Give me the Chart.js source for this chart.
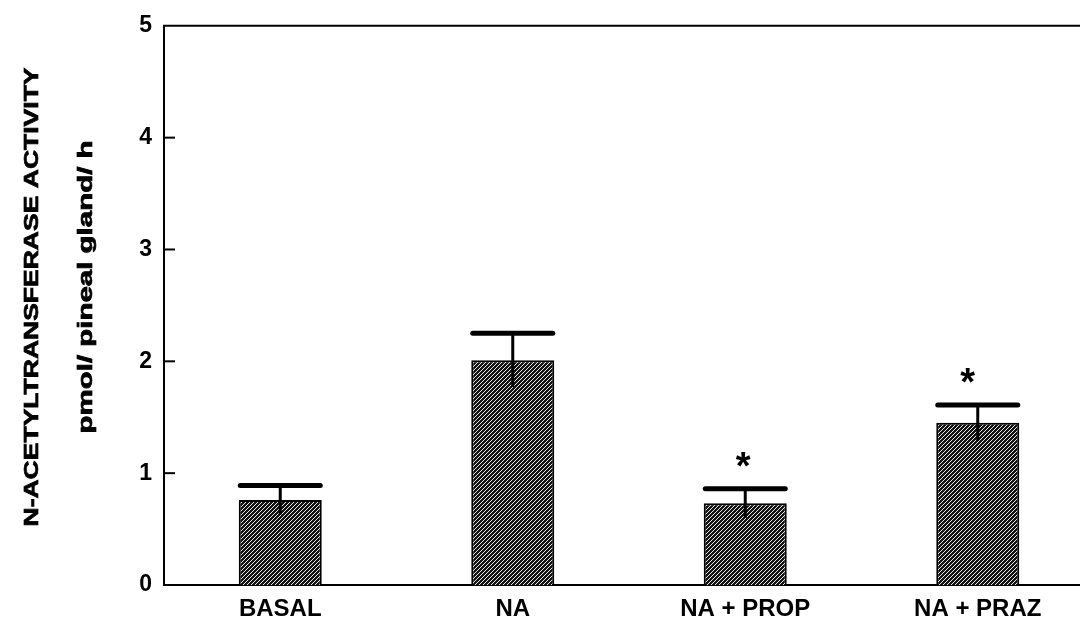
<!DOCTYPE html>
<html>
<head>
<meta charset="utf-8">
<script src="https://cdn.jsdelivr.net/npm/chart.js@4"></script>
<style>
  html, body { margin: 0; padding: 0; background: #fff; overflow: hidden; }
  canvas { display: block; }
</style>
</head>
<body>
<canvas id="c" width="1094" height="621"></canvas>
<script>
const categories = ['BASAL', 'NA', 'NA + PROP', 'NA + PRAZ'];
const meanValues = [0.76, 2.01, 0.73, 1.45];
const semValues = [0.13, 0.24, 0.13, 0.16];
const asteriskValues = [null, null, 1.14, 1.89];
const yTicks = [0, 1, 2, 3, 4, 5];
const yTitleLines = ['N-ACETYLTRANSFERASE ACTIVITY', 'pmol/ pineal gland/ h'];

// hatch pattern
const pc = document.createElement('canvas');
pc.width = 4; pc.height = 4;
const pctx = pc.getContext('2d');
pctx.fillStyle = '#141414';
pctx.fillRect(0, 0, 4, 4);
pctx.strokeStyle = '#ffffff';
pctx.lineWidth = 0.9;
pctx.beginPath();
pctx.moveTo(0, 4); pctx.lineTo(4, 0);
pctx.moveTo(-1, 1); pctx.lineTo(1, -1);
pctx.moveTo(3, 5); pctx.lineTo(5, 3);
pctx.stroke();
const hatch = document.getElementById('c').getContext('2d').createPattern(pc, 'repeat');

const decorPlugin = {
  id: 'decor',
  afterDatasetsDraw(chart) {
    const ctx = chart.ctx;
    const area = chart.chartArea;
    const y = chart.scales.y;
    const meta = chart.getDatasetMeta(0);
    ctx.save();
    // top frame line
    ctx.strokeStyle = '#000';
    ctx.lineWidth = 2;
    ctx.beginPath();
    ctx.moveTo(area.left - 1, area.top);
    ctx.lineTo(area.right, area.top);
    ctx.stroke();
    // inward tick marks
    yTicks.forEach(v => {
      if (v === 0 || v === 5) return;
      const py = y.getPixelForValue(v);
      ctx.beginPath();
      ctx.moveTo(area.left, py);
      ctx.lineTo(area.left + 11, py);
      ctx.stroke();
    });
    // error bars
    meta.data.forEach((bar, i) => {
      const m = meanValues[i], e = semValues[i];
      const top = y.getPixelForValue(m + e);
      const bot = y.getPixelForValue(m - e);
      const half = 40;
      ctx.lineWidth = 3;
      ctx.beginPath();
      ctx.moveTo(bar.x, top);
      ctx.lineTo(bar.x, bot);
      ctx.stroke();
      ctx.lineWidth = 5;
      ctx.lineCap = 'round';
      ctx.beginPath();
      ctx.moveTo(bar.x - half, top);
      ctx.lineTo(bar.x + half, top);
      ctx.stroke();
      ctx.lineCap = 'butt';
      // asterisk
      if (asteriskValues[i] !== null) {
        const ay = y.getPixelForValue(asteriskValues[i]);
        ctx.fillStyle = '#000';
        ctx.font = 'bold 38px "Liberation Sans", Arial, sans-serif';
        ctx.textAlign = 'center';
        ctx.textBaseline = 'alphabetic';
        ctx.fillText('*', bar.x - (i === 3 ? 10 : 2), ay + 0.57 * 38);
      }
    });
    // y title
    ctx.fillStyle = '#000';
    ctx.strokeStyle = '#000';
    ctx.lineWidth = 0.7;
    ctx.font = 'bold 20px "Liberation Sans", Arial, sans-serif';
    ctx.textAlign = 'center';
    ctx.textBaseline = 'middle';
    const specs = [
      { x: 32, cy: 297, len: 459 },
      { x: 86, cy: 287, len: 293 }
    ];
    yTitleLines.forEach((t, i) => {
      const s = specs[i];
      const w = ctx.measureText(t).width;
      ctx.save();
      ctx.translate(s.x, s.cy);
      ctx.rotate(-Math.PI / 2);
      ctx.scale(s.len / w, 1);
      ctx.fillText(t, 0, 0);
      ctx.strokeText(t, 0, 0);
      ctx.restore();
    });
    ctx.restore();
  }
};

new Chart(document.getElementById('c'), {
  type: 'bar',
  data: {
    labels: categories,
    datasets: [{
      data: meanValues,
      backgroundColor: hatch,
      borderColor: '#000',
      borderWidth: 2,
      categoryPercentage: 1,
      barPercentage: 0.357
    }]
  },
  options: {
    responsive: false,
    animation: false,
    events: [],
    layout: { padding: { top: 23, right: 0, bottom: 0, left: 0 } },
    plugins: { legend: { display: false }, tooltip: { enabled: false } },
    scales: {
      x: {
        offset: true,
        grid: { display: false, drawTicks: false },
        border: { display: true, color: '#000', width: 2 },
        ticks: {
          color: '#000',
          padding: 10,
          maxRotation: 0,
          autoSkip: false,
          font: { family: '"Liberation Sans", Arial, sans-serif', size: 24, weight: 'bold' }
        },
        afterFit(scale) { scale.height = 36; }
      },
      y: {
        min: 0,
        max: 5,
        grid: { display: false, drawTicks: false },
        border: { display: true, color: '#000', width: 2 },
        afterBuildTicks(scale) { scale.ticks = yTicks.map(v => ({ value: v })); },
        ticks: {
          color: '#000',
          padding: 12,
          font: { family: '"Liberation Sans", Arial, sans-serif', size: 23, weight: 'bold' }
        },
        afterFit(scale) { scale.width = 164; }
      }
    }
  },
  plugins: [decorPlugin]
});
</script>
</body>
</html>
